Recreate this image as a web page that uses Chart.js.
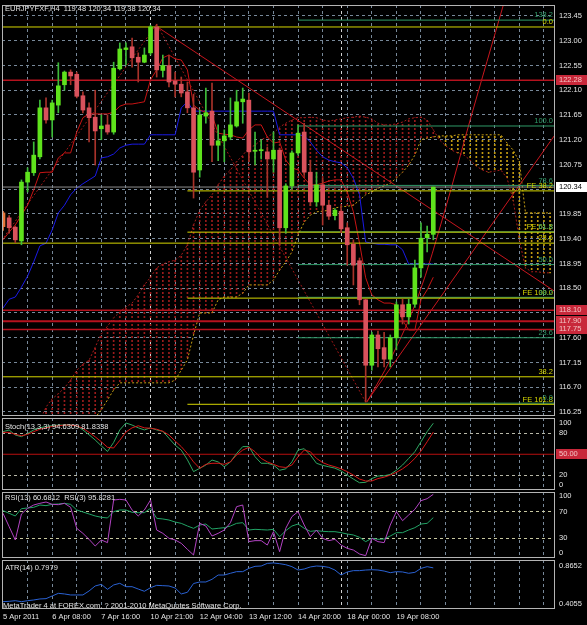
<!DOCTYPE html>
<html>
<head>
<meta charset="utf-8">
<script src="https://cdn.jsdelivr.net/npm/chart.js@4.4.1/dist/chart.umd.min.js"></script>
<style>
  html, body { margin: 0; padding: 0; background: #000; }
  #wrap { position: relative; width: 587px; height: 625px; background: #000; overflow: hidden; }
  canvas { position: absolute; left: 0; }
</style>
</head>
<body>
<div id="wrap">
  <canvas id="main" width="587" height="417" style="top:0px"></canvas>
  <canvas id="stoch" width="587" height="74" style="top:417px"></canvas>
  <canvas id="rsi" width="587" height="68" style="top:491px"></canvas>
  <canvas id="atr" width="587" height="66" style="top:559px"></canvas>
</div>
<script>
// ---- data (EURJPY H4, bar 0 = 5 Apr 2011 00:00) ----
const tickBars = [0, 8, 16, 24, 32, 40, 48, 56, 64];
const tickLabels = ['5 Apr 2011', '6 Apr 08:00', '7 Apr 16:00', '10 Apr 21:00', '12 Apr 04:00',
  '13 Apr 12:00', '14 Apr 20:00', '18 Apr 00:00', '19 Apr 08:00'];
const weekBreaks = [24, 55];

const open = [119.87, 119.78, 119.61, 119.36, 120.43, 120.60, 120.89, 121.78, 121.56, 121.83,
  122.20, 122.43, 122.39, 122.00, 121.78, 121.61, 121.40, 121.47, 121.34, 122.49,
  122.84, 122.89, 122.70, 122.61, 122.78, 123.25, 122.46, 122.55, 122.27, 122.21,
  122.07, 121.78, 120.65, 121.63, 121.72, 121.10, 121.18, 121.25, 121.45, 121.89,
  121.92, 120.99, 121.00, 120.98, 120.85, 121.01, 119.60, 120.36, 120.96, 121.34,
  120.61, 120.07, 120.38, 120.01, 119.82, 119.90, 119.60, 119.30, 119.00, 118.29,
  117.10, 117.65, 117.42, 117.21, 117.60, 118.20, 117.98, 118.21, 118.87, 119.42,
  119.48];
const high = [119.90, 119.82, 119.63, 120.47, 120.69, 121.16, 121.92, 121.96, 121.92, 122.60,
  122.45, 122.47, 122.43, 122.07, 121.87, 122.10, 121.65, 121.65, 122.61, 122.96,
  122.96, 123.05, 122.78, 122.87, 123.28, 123.30, 122.74, 122.74, 122.43, 122.34,
  122.25, 122.03, 121.74, 122.14, 122.23, 121.47, 121.38, 121.96, 122.10, 122.14,
  122.05, 121.34, 121.20, 121.07, 121.34, 121.05, 120.40, 121.00, 121.47, 121.50,
  120.83, 120.61, 120.50, 120.10, 119.95, 119.98, 119.69, 119.38, 119.05, 118.30,
  117.70, 117.72, 117.70, 117.65, 118.25, 118.30, 118.30, 119.01, 119.69, 119.63,
  120.34];
const low = [119.55, 119.50, 119.33, 119.29, 120.25, 120.55, 120.85, 121.50, 121.25, 121.69,
  122.10, 122.20, 121.96, 121.69, 121.16, 120.74, 121.20, 121.30, 121.30, 122.47,
  122.56, 122.52, 122.25, 122.60, 122.74, 122.34, 122.34, 122.16, 121.98, 121.98,
  121.69, 120.14, 120.52, 121.50, 120.80, 120.82, 120.80, 121.20, 121.43, 121.50,
  120.80, 120.74, 120.85, 120.16, 120.61, 119.29, 119.50, 120.30, 120.92, 120.55,
  120.00, 119.99, 119.65, 119.75, 119.74, 119.51, 118.92, 118.56, 118.20, 116.43,
  117.01, 117.07, 117.07, 117.07, 117.38, 117.85, 117.85, 118.15, 118.70, 119.16,
  119.38];
const close = [119.62, 119.60, 119.38, 120.43, 120.61, 120.92, 121.78, 121.56, 121.87, 122.18,
  122.43, 122.36, 121.99, 121.74, 121.60, 121.36, 121.45, 121.34, 122.50, 122.85,
  122.87, 122.69, 122.61, 122.74, 123.25, 122.47, 122.55, 122.25, 122.21, 122.05,
  121.78, 120.61, 121.65, 121.69, 121.10, 121.18, 121.27, 121.47, 121.89, 121.94,
  120.98, 121.01, 121.02, 120.85, 121.01, 119.60, 120.36, 120.96, 121.32, 120.61,
  120.07, 120.38, 120.01, 119.81, 119.92, 119.58, 119.29, 118.92, 118.29, 117.10,
  117.65, 117.40, 117.21, 117.60, 118.20, 117.98, 118.21, 118.87, 119.41, 119.48,
  120.34];

const tenkan = [119.38, 119.52, 119.65, 119.83, 120.01, 120.29, 120.60, 120.61, 120.61, 120.87,
  120.96, 120.96, 121.34, 121.60, 121.67, 121.67, 121.67, 121.67, 121.70, 121.81,
  121.85, 121.85, 121.87, 121.89, 122.29, 122.47, 122.69, 122.74, 122.67, 122.65,
  122.47, 121.83, 121.74, 121.70, 121.65, 121.32, 121.30, 121.29, 121.25, 121.23,
  121.38, 121.47, 121.47, 121.25, 121.14, 121.16, 120.83, 120.69, 120.65, 120.50,
  120.38, 120.38, 120.41, 120.45, 120.47, 120.47, 120.25, 119.89, 119.32, 118.69,
  118.38, 118.29, 118.23, 118.23, 118.20, 117.92, 117.74, 117.74, 118.29, 118.47,
  118.70];
const kijun = [118.14, 118.30, 118.34, 118.52, 118.72, 118.98, 119.27, 119.32, 119.56, 119.87,
  120.01, 120.20, 120.32, 120.40, 120.47, 120.54, 120.87, 120.89, 120.94, 121.05,
  121.10, 121.12, 121.12, 121.12, 121.29, 121.29, 121.29, 121.29, 121.29, 121.78,
  121.89, 121.72, 121.72, 121.72, 121.72, 121.72, 121.72, 121.72, 121.72, 121.72,
  121.72, 121.72, 121.72, 121.72, 121.72, 121.29, 121.29, 121.29, 121.29, 121.27,
  121.16, 121.01, 120.89, 120.83, 120.80, 120.78, 120.69, 120.50, 120.20, 119.34,
  119.32, 119.30, 119.30, 119.29, 119.29, 119.20, 118.94, 118.94, 118.94, 118.94,
  118.94];

// cloud spans, bars 6..89
const cloudFirstBar = 6;
const spanA = [116.09, 116.34, 116.49, 116.58, 116.69, 116.83, 117.01, 117.12, 117.19, 117.43,
  117.67, 117.81, 117.96, 118.07, 118.16, 118.23, 118.38, 118.56, 118.70, 118.87,
  118.94, 118.98, 119.01, 119.10, 119.29, 119.65, 119.92, 120.07, 120.20, 120.38,
  120.54, 120.65, 120.80, 120.92, 121.05, 121.10, 121.20, 121.25, 121.32, 121.43,
  121.50, 121.56, 121.60, 121.60, 121.61, 121.60, 121.56, 121.54, 121.56, 121.58,
  121.60, 121.61, 121.63, 121.61, 121.58, 121.50, 121.47, 121.47, 121.49, 121.52,
  121.58, 121.60, 121.61, 121.56, 121.38, 121.20, 121.09, 121.01, 120.96, 120.92,
  120.83, 120.72, 120.65, 120.61, 120.63, 120.65, 120.50, 120.10, 119.38, 118.87,
  118.80, 118.80, 118.78, 118.78];
const spanB = [116.00, 116.00, 116.00, 116.00, 116.05, 116.05, 116.05, 116.10, 116.10, 116.15,
  116.29, 116.47, 116.65, 116.78, 116.78, 116.78, 116.78, 116.78, 116.78, 116.78,
  116.78, 116.78, 116.83, 117.01, 117.20, 117.65, 118.05, 118.05, 118.05, 118.29,
  118.34, 118.34, 118.34, 118.41, 118.56, 118.56, 118.56, 118.56, 118.65, 118.83,
  118.98, 119.16, 119.47, 119.70, 119.83, 119.89, 119.90, 119.92, 119.96, 119.98,
  119.99, 120.01, 120.10, 120.20, 120.25, 120.32, 120.36, 120.41, 120.50, 120.61,
  120.74, 120.92, 121.20, 121.23, 121.25, 121.27, 121.27, 121.27, 121.29, 121.29,
  121.29, 121.29, 121.29, 121.29, 121.29, 121.29, 121.14, 121.01, 120.80, 119.87,
  119.87, 119.87, 119.87, 119.87];

const stochK = [82.5, 84.9, 77.7, 75.3, 80, 85, 88, 90, 91, 92,
  92, 92, 91, 85, 78, 70.5, 62, 54, 67, 85,
  95, 92, 88, 85, 88, 85, 83, 73, 63, 56,
  42, 25, 29.7, 34.5, 41.7, 39, 32, 39, 51, 61,
  61, 46.5, 37, 37, 34.5, 27, 29, 39, 56, 58,
  49, 37, 34, 32, 30, 26, 20, 14.3, 9, 9.6,
  15, 18.7, 19, 21, 27, 34.5, 44, 53.7, 68, 82.5,
  94.6];
const stochD = [81.5, 81.5, 78.6, 76.6, 78.6, 82.5, 86, 88, 90, 91,
  92, 92, 91, 87.3, 81.5, 75, 68, 60, 59, 70,
  82, 88, 91, 88, 87.3, 86, 83, 77.7, 69, 61,
  51, 39, 29.7, 35.5, 37, 37, 35.5, 39, 49, 56,
  60, 53.7, 44, 39, 35.5, 32, 31, 34.5, 46.5, 56,
  53.7, 44, 38, 34.5, 32, 29, 25, 20, 14.3, 11.5,
  11.5, 15, 17, 20, 24, 29, 35.5, 44, 54.6, 68,
  81.8];

const rsi13 = [71.2, 67.2, 63.2, 74.2, 75.2, 76.2, 79.7, 78.7, 80.7, 81.2,
  82.2, 80.7, 72.2, 69.2, 66.2, 63.2, 61.2, 60.2, 69.7, 72.2,
  72.2, 68.7, 68.2, 68.2, 74.7, 59.7, 58.7, 57.1, 54.1, 52.1,
  48.1, 44.6, 49.6, 51.1, 43.6, 44.6, 45.6, 48.1, 52.1, 53.1,
  42.1, 43.1, 42.6, 42.1, 43.1, 32.1, 41.1, 48.1, 51.1, 44.6,
  40.1, 41.1, 40.1, 39.6, 39.6, 38.1, 36.1, 34.6, 31.1, 24.6,
  29.6, 28.1, 28.6, 33.1, 38.1, 38.1, 42.1, 45.6, 51.1, 52.1,
  60.7];
const rsi3 = [67.2, 47.1, 27.1, 66.2, 74.7, 79.7, 82.2, 84.2, 80.7, 80.2,
  82.2, 76.2, 44.6, 37.1, 28.1, 18.0, 27.1, 23.1, 87.2, 88.2,
  87.2, 72.2, 63.2, 72.2, 87.2, 42.1, 37.1, 29.6, 27.1, 22.1,
  13.0, 4.5, 52.1, 48.1, 33.1, 37.1, 42.1, 53.1, 77.2, 79.7,
  24.6, 26.1, 26.1, 19.5, 39.6, 9.5, 44.6, 62.2, 69.7, 49.6,
  32.1, 42.1, 29.6, 26.1, 28.1, 19.5, 14.5, 12.0, 6.0, 3.5,
  29.6, 24.6, 23.1, 49.6, 69.7, 56.1, 64.7, 73.2, 86.2, 89.2,
  95.8];

const atr14 = [0.4675, 0.471, 0.477, 0.4675, 0.477, 0.484, 0.494, 0.497, 0.523, 0.549,
  0.543, 0.533, 0.533, 0.533, 0.572, 0.621, 0.637, 0.588, 0.631, 0.647,
  0.614, 0.614, 0.591, 0.569, 0.604, 0.627, 0.624, 0.621, 0.601, 0.543,
  0.559, 0.645, 0.660, 0.660, 0.686, 0.728, 0.728, 0.745, 0.761, 0.761,
  0.793, 0.813, 0.816, 0.842, 0.846, 0.839, 0.829, 0.810, 0.777, 0.787,
  0.807, 0.816, 0.813, 0.803, 0.777, 0.728, 0.758, 0.771, 0.771, 0.777,
  0.780, 0.777, 0.767, 0.751, 0.761, 0.758, 0.745, 0.754, 0.793, 0.810,
  0.7979];

const priceTicks = [116.25, 116.70, 117.15, 117.60, 118.05, 118.50, 118.95, 119.40, 119.85,
  120.30, 120.75, 121.20, 121.65, 122.10, 122.55, 123.00, 123.45];
const lastPrice = 120.34;
const redLevels = [122.28, 118.10, 117.90, 117.75];
const yellowLevels = [123.25, 119.32, 116.89];
const yellowNames = ['0.0', '23.6', '38.2'];
const feLevels = [120.27, 119.52, 118.32, 116.39];
const feNames = ['FE 38.2', 'FE 61.8', 'FE 100.0', 'FE 161.8'];
const fibLevels = [123.375, 121.45, 120.37, 119.525, 118.93, 118.335, 117.60, 116.41];
const fibNames = ['138.2', '100.0', '78.6', '61.8', '50.0', '38.2', '23.6', '0.0'];
const feFromBar = 30, fibFromBar = 48;

// drawn objects, as [bar, price]
const trendDown = [[25, 123.26], [89.8, 118.44]];
const trendUp = [[59.2, 116.44], [89.8, 121.29]];
const arc = [[59.2, 116.43], [63, 117.20], [67.5, 118.34], [71.9, 119.92], [76, 121.56], [81.5, 123.69]];
const zigzag = [[-1, 119.25], [25, 123.30], [59, 116.43]];

const stochTicks = [6.5, 20, 80, 95], stochTickLabels = ['0', '20', '80', '100'];
const rsiTicks = [7.5, 30, 70, 93.2], rsiTickLabels = ['0', '30', '70', '100'];
const atrTicks = [0.4447, 0.8163], atrTickLabels = ['0.4055', '0.8652'];

// ---- styling ----
const C = {
  bull: '#5fe31c', bullWick: '#3dbb3a', bear: '#d9525c', bearWick: '#a8322a', first: '#e8763a',
  tenkan: '#c81414', kijun: '#1a1ae6', spanA: '#a81c1c', spanB: '#c9a012',
  hatchRed: '#9a1b1b', hatchYel: '#c19a10',
  yellow: '#d6d600', green: '#2f9a68', red: '#b5121e', trend: '#c8161e', bid: '#8e8e8e',
  grid: '#778899', sep: '#d0d0d0', text: '#e4e4e4', frame: '#b4b4b4',
  lvl: '#b8b8a8'
};
const FONT = '7.5px "Liberation Sans", Arial, sans-serif';
const X0 = -0.163, X1 = 89.8;

Chart.defaults.font.family = '"Liberation Sans", Arial, sans-serif';
Chart.defaults.font.size = 7.5;
Chart.defaults.color = C.text;
Chart.defaults.animation = false;
Chart.defaults.responsive = false;
Chart.defaults.events = [];
Chart.defaults.plugins.legend.display = false;
Chart.defaults.plugins.tooltip.enabled = false;
Chart.defaults.elements.point.radius = 0;
Chart.defaults.elements.line.borderWidth = 1;

const xGridTicks = [...new Set([...Array(23).keys()].map(k => k * 4).concat(weekBreaks))].sort((a, b) => a - b);

function xScale(showLabels) {
  return {
    type: 'linear', min: X0, max: X1, offset: false,
    afterBuildTicks: s => { s.ticks = xGridTicks.map(v => ({ value: v })); },
    afterFit: s => { s.height = showLabels ? 16 : 0; s.paddingLeft = 0; s.paddingRight = 0; },
    grid: {
      offset: false, drawTicks: false, lineWidth: 1,
      color: c => {
        const v = c.tick ? c.tick.value : -1;
        if (v === 0) return 'rgba(0,0,0,0)';
        return weekBreaks.includes(v) ? C.sep : C.grid;
      }
    },
    border: { display: false, dash: [3, 3] },
    ticks: {
      display: showLabels, autoSkip: false, maxRotation: 0, minRotation: 0,
      align: 'start', padding: 3, color: C.text,
      callback: v => { const k = tickBars.indexOf(v); return k >= 0 ? tickLabels[k] : ''; }
    }
  };
}

function yScale(min, max, vals, labelFn, gridFn) {
  return {
    position: 'right', min, max, stacked: false, beginAtZero: false,
    afterBuildTicks: s => { s.ticks = vals.map(v => ({ value: v })); },
    afterFit: s => { s.width = 32; s.paddingTop = 0; s.paddingBottom = 0; },
    grid: { drawTicks: false, lineWidth: 1, color: c => gridFn(c.tick ? c.tick.value : null) },
    border: { display: false, dash: [3, 3] },
    ticks: { padding: 4, autoSkip: false, color: C.text, callback: labelFn }
  };
}

const hl = (v, x0, x1, color, w = 1) => ({
  type: 'line', data: [{ x: x0, y: v }, { x: x1, y: v }], borderColor: color, borderWidth: w, order: 2
});
const path = (pts, color, dash = [], tension = 0, order = 4) => ({
  type: 'line', data: pts.map(p => ({ x: p[0], y: p[1] })), borderColor: color, borderWidth: 1,
  borderDash: dash, tension, order
});
const series = (arr, color, order = 3, dash = [], first = 0) => ({
  type: 'line', data: arr.map((v, i) => ({ x: first + i, y: v })), borderColor: color, borderWidth: 1,
  borderDash: dash, order
});

function dots(color) {
  const c = document.createElement('canvas');
  c.width = 1; c.height = 4;
  const g = c.getContext('2d');
  g.fillStyle = color; g.fillRect(0, 0, 1, 2);
  return g.createPattern(c, 'repeat');
}

function framePlugin(extra) {
  return {
    id: 'frame',
    afterDraw(chart) {
      const { ctx, chartArea: a } = chart;
      ctx.save();
      ctx.strokeStyle = C.frame; ctx.lineWidth = 1;
      ctx.strokeRect(Math.floor(a.left) + 0.5, Math.floor(a.top) + 0.5,
        Math.round(a.right - a.left) - 1, Math.round(a.bottom - a.top) - 1);
      ctx.font = FONT;
      if (extra) extra(chart, ctx);
      ctx.restore();
    }
  };
}

function text(ctx, s, x, y, color, align = 'left', base = 'middle') {
  ctx.fillStyle = color; ctx.textAlign = align; ctx.textBaseline = base;
  ctx.fillText(s, x, y);
}
function priceBox(ctx, s, py, fill, color) {
  ctx.fillStyle = fill;
  ctx.fillRect(556, Math.round(py) - 5, 31, 10);
  text(ctx, s, 559, Math.round(py), color);
}

// ---- main price chart ----
const hatchRed = dots(C.hatchRed), hatchYel = dots(C.hatchYel);
const candleBody = open.map((o, i) => i === 0 ? C.first : (close[i] >= o ? C.bull : C.bear));
const candleWick = open.map((o, i) => i === 0 ? C.first : (close[i] >= o ? C.bullWick : C.bearWick));

const mainSets = [
  { type: 'bar', stack: 'k', order: 0, barThickness: 4, minBarLength: 1, borderWidth: 0,
    data: open.map((o, i) => ({ x: i, y: [o, close[i]] })), backgroundColor: candleBody },
  { type: 'bar', stack: 'k', order: 1, barThickness: 1, borderWidth: 0,
    data: low.map((l, i) => ({ x: i, y: [l, high[i]] })), backgroundColor: candleWick },
  { type: 'bar', stack: 'k', order: 9, barThickness: 1, borderWidth: 0,
    data: spanA.map((a, k) => ({ x: cloudFirstBar + k, y: [spanB[k], a] })),
    backgroundColor: spanA.map((a, k) => a >= spanB[k] ? hatchRed : hatchYel) },
  series(spanA, C.spanA, 8, [2, 2], cloudFirstBar),
  series(spanB, C.spanB, 8, [2, 2], cloudFirstBar),
  series(tenkan, C.tenkan, 3),
  series(kijun, C.kijun, 3),
  hl(lastPrice, X0, X1, C.bid),
  ...yellowLevels.map(v => hl(v, X0, X1, C.yellow)),
  ...feLevels.map(v => hl(v, feFromBar, X1, C.yellow)),
  ...fibLevels.map(v => hl(v, fibFromBar, X1, C.green)),
  ...redLevels.map(v => hl(v, X0, X1, C.red, v === 117.90 ? 2 : 1.5)),
  path(trendDown, C.trend),
  path(trendUp, C.trend),
  path(arc, C.trend, [], 0.35),
  path(zigzag, '#9c1616', [2, 2])
];

new Chart(document.getElementById('main'), {
  type: 'line',
  data: { datasets: mainSets },
  options: {
    layout: { padding: { left: 2, right: 0, top: 5, bottom: 1 } },
    scales: {
      x: xScale(false),
      y: yScale(116.177, 123.65, priceTicks, v => v.toFixed(2), () => C.grid)
    }
  },
  plugins: [framePlugin((chart, ctx) => {
    const y = chart.scales.y;
    text(ctx, 'EURJPYFXF,H4  119.48 120.34 119.38 120.34', 5, 9, C.text);
    const R = 553;
    yellowLevels.forEach((v, i) => text(ctx, yellowNames[i], R, y.getPixelForValue(v) - 1, C.yellow, 'right', 'bottom'));
    feLevels.forEach((v, i) => text(ctx, feNames[i], R, y.getPixelForValue(v) - 1, C.yellow, 'right', 'bottom'));
    fibLevels.forEach((v, i) => text(ctx, fibNames[i], R, y.getPixelForValue(v) - 1, C.green, 'right', 'bottom'));
    priceBox(ctx, lastPrice.toFixed(2), y.getPixelForValue(lastPrice), '#ffffff', '#000000');
    redLevels.forEach(v => priceBox(ctx, v.toFixed(2), y.getPixelForValue(v), '#c8283a', '#f2c4c4'));
  })]
});

// ---- stochastic ----
new Chart(document.getElementById('stoch'), {
  type: 'line',
  data: { datasets: [
    series(stochK, '#2fa862', 2),
    series(stochD, '#d81818', 1),
    hl(50, X0, X1, '#b80f0f')
  ] },
  options: {
    layout: { padding: { left: 2, right: 0, top: 1, bottom: 1 } },
    scales: {
      x: xScale(false),
      y: yScale(-1.44, 102.16, stochTicks, v => stochTickLabels[stochTicks.indexOf(v)],
        v => (v === 20 || v === 80) ? C.lvl : 'rgba(0,0,0,0)')
    }
  },
  plugins: [framePlugin((chart, ctx) => {
    text(ctx, 'Stoch(13,3,3) 94.6309 81.8338', 5, 10, C.text);
    priceBox(ctx, '50.00', chart.scales.y.getPixelForValue(50), '#c8283a', '#f2c4c4');
  })]
});

// ---- RSI ----
new Chart(document.getElementById('rsi'), {
  type: 'line',
  data: { datasets: [
    series(rsi13, '#22a466', 2),
    series(rsi3, '#b344c4', 1)
  ] },
  options: {
    layout: { padding: { left: 2, right: 0, top: 1, bottom: 1 } },
    scales: {
      x: xScale(false),
      y: yScale(0, 99.25, rsiTicks, v => rsiTickLabels[rsiTicks.indexOf(v)],
        v => (v === 30 || v === 70) ? '#c8c8a0' : 'rgba(0,0,0,0)')
    }
  },
  plugins: [framePlugin((chart, ctx) => {
    text(ctx, 'RSI(13) 60.6812  RSI(3) 95.8281', 5, 7, C.text);
  })]
});

// ---- ATR ----
new Chart(document.getElementById('atr'), {
  type: 'line',
  data: { datasets: [series(atr14, '#2a62d4', 1)] },
  options: {
    layout: { padding: { left: 2, right: 0, top: 1, bottom: 0 } },
    scales: {
      x: xScale(true),
      y: yScale(0.39576, 0.87498, atrTicks, v => atrTickLabels[atrTicks.indexOf(v)], () => 'rgba(0,0,0,0)')
    }
  },
  plugins: [framePlugin((chart, ctx) => {
    text(ctx, 'ATR(14) 0.7979', 5, 9, C.text);
    text(ctx, 'MetaTrader 4 at FOREX.com, ? 2001-2010 MetaQuotes Software Corp.', 3, 47, C.text);
  })]
});
</script>
</body>
</html>
